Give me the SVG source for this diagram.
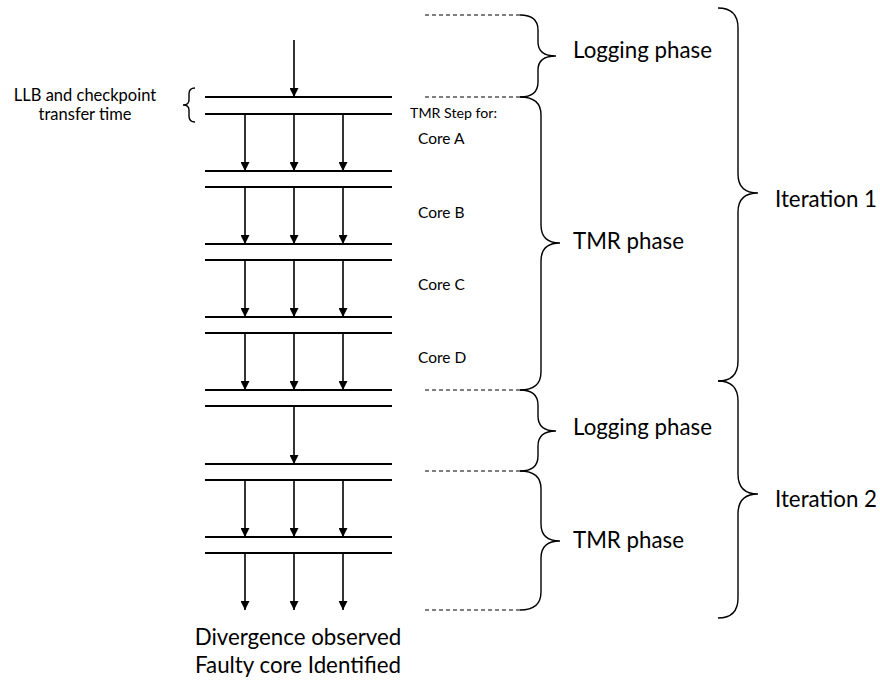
<svg xmlns="http://www.w3.org/2000/svg" width="880" height="681" viewBox="0 0 880 681">
<defs>
<marker id="ah" viewBox="0 0 10 10" refX="10" refY="5" markerWidth="9" markerHeight="9" markerUnits="userSpaceOnUse" orient="auto">
<path d="M0,0 L10,5 L0,10 z" fill="#000"/>
</marker>
<style>
.bar{stroke:#000;stroke-width:2.2;fill:none}
.arr{stroke:#000;stroke-width:1.6;fill:none;marker-end:url(#ah)}
.dash{stroke:#000;stroke-width:1.2;stroke-dasharray:4 3;fill:none}
.brace{stroke:#000;stroke-width:1.4;fill:none}
.t{font-family:Lato,"Open Sans",sans-serif;fill:#000}
.big{font-size:22.3px}
.llb{font-size:16.5px}
.core{font-size:15.5px}
.step{font-size:14.2px}
</style>
</defs>
<rect width="880" height="681" fill="#fff"/>
<g id="bars">
<line class="bar" x1="205" y1="97" x2="392" y2="97"/>
<line class="bar" x1="205" y1="114" x2="392" y2="114"/>
<line class="bar" x1="205" y1="171" x2="392" y2="171"/>
<line class="bar" x1="205" y1="187" x2="392" y2="187"/>
<line class="bar" x1="205" y1="244" x2="392" y2="244"/>
<line class="bar" x1="205" y1="260" x2="392" y2="260"/>
<line class="bar" x1="205" y1="317" x2="392" y2="317"/>
<line class="bar" x1="205" y1="333" x2="392" y2="333"/>
<line class="bar" x1="205" y1="390" x2="392" y2="390"/>
<line class="bar" x1="205" y1="406" x2="392" y2="406"/>
<line class="bar" x1="205" y1="464" x2="392" y2="464"/>
<line class="bar" x1="205" y1="480" x2="392" y2="480"/>
<line class="bar" x1="205" y1="537" x2="392" y2="537"/>
<line class="bar" x1="205" y1="553" x2="392" y2="553"/>
</g>
<g id="connectors">
<line class="arr" x1="294" y1="40" x2="294" y2="97"/>
<line class="arr" x1="245" y1="114" x2="245" y2="171"/>
<line class="arr" x1="294" y1="114" x2="294" y2="171"/>
<line class="arr" x1="343" y1="114" x2="343" y2="171"/>
<line class="arr" x1="245" y1="187" x2="245" y2="244"/>
<line class="arr" x1="294" y1="187" x2="294" y2="244"/>
<line class="arr" x1="343" y1="187" x2="343" y2="244"/>
<line class="arr" x1="245" y1="260" x2="245" y2="317"/>
<line class="arr" x1="294" y1="260" x2="294" y2="317"/>
<line class="arr" x1="343" y1="260" x2="343" y2="317"/>
<line class="arr" x1="245" y1="333" x2="245" y2="390"/>
<line class="arr" x1="294" y1="333" x2="294" y2="390"/>
<line class="arr" x1="343" y1="333" x2="343" y2="390"/>
<line class="arr" x1="294" y1="406" x2="294" y2="464"/>
<line class="arr" x1="245" y1="480" x2="245" y2="537"/>
<line class="arr" x1="294" y1="480" x2="294" y2="537"/>
<line class="arr" x1="343" y1="480" x2="343" y2="537"/>
<line class="arr" x1="245" y1="553" x2="245" y2="610"/>
<line class="arr" x1="294" y1="553" x2="294" y2="610"/>
<line class="arr" x1="343" y1="553" x2="343" y2="610"/>
</g>
<g id="dashes">
<line class="dash" x1="425" y1="15" x2="521" y2="15"/>
<line class="dash" x1="425" y1="97" x2="521" y2="97"/>
<line class="dash" x1="425" y1="390" x2="521" y2="390"/>
<line class="dash" x1="425" y1="471" x2="521" y2="471"/>
<line class="dash" x1="425" y1="610" x2="521" y2="610"/>
</g>
<g id="llb-brace">
<path class="brace" d="M195,88 Q189,88 189,94 L189,100 Q189,105 183,105 Q189,105 189,110 L189,116 Q189,122 195,122"/>
<text class="t llb" x="85" y="101" text-anchor="middle">LLB and checkpoint</text>
<text class="t llb" x="85" y="120" text-anchor="middle">transfer time</text>
</g>
<g id="logging1">
<path class="brace" d="M520,15 Q538,15 538,30 L538,42 Q538,56 556,56 Q538,56 538,70 L538,82 Q538,97 520,97"/>
<text class="t big" x="573" y="58">Logging phase</text>
</g>
<g id="tmr1">
<path class="brace" d="M520,97 Q541,97 541,115 L541,225 Q541,243 560,243 Q541,243 541,261 L541,372 Q541,390 520,390"/>
<text class="t big" x="573" y="249">TMR phase</text>
</g>
<g id="logging2">
<path class="brace" d="M520,390 Q538,390 538,405 L538,416 Q538,431 556,431 Q538,431 538,446 L538,456 Q538,471 520,471"/>
<text class="t big" x="573" y="435">Logging phase</text>
</g>
<g id="tmr2">
<path class="brace" d="M520,471 Q541,471 541,489 L541,524 Q541,541 560,541 Q541,541 541,558 L541,592 Q541,610 520,610"/>
<text class="t big" x="573" y="548">TMR phase</text>
</g>
<g id="iter1">
<path class="brace" d="M718,8 Q738,8 738,28 L738,174 Q738,193 758,193 Q738,193 738,212 L738,361 Q738,381 718,381"/>
<text class="t big" x="775" y="207">Iteration 1</text>
</g>
<g id="iter2">
<path class="brace" d="M718,381 Q738,381 738,401 L738,474 Q738,494 758,494 Q738,494 738,514 L738,598 Q738,618 718,618"/>
<text class="t big" x="775" y="507">Iteration 2</text>
</g>
<g id="tmr-steps">
<text class="t step" x="410" y="118">TMR Step for:</text>
<text class="t core" x="418" y="144">Core A</text>
<text class="t core" x="418" y="218">Core B</text>
<text class="t core" x="418" y="290">Core C</text>
<text class="t core" x="418" y="363">Core D</text>
</g>
<g id="result">
<text class="t big" x="298" y="645" text-anchor="middle">Divergence observed</text>
<text class="t big" x="298" y="673" text-anchor="middle">Faulty core Identified</text>
</g>
</svg>
